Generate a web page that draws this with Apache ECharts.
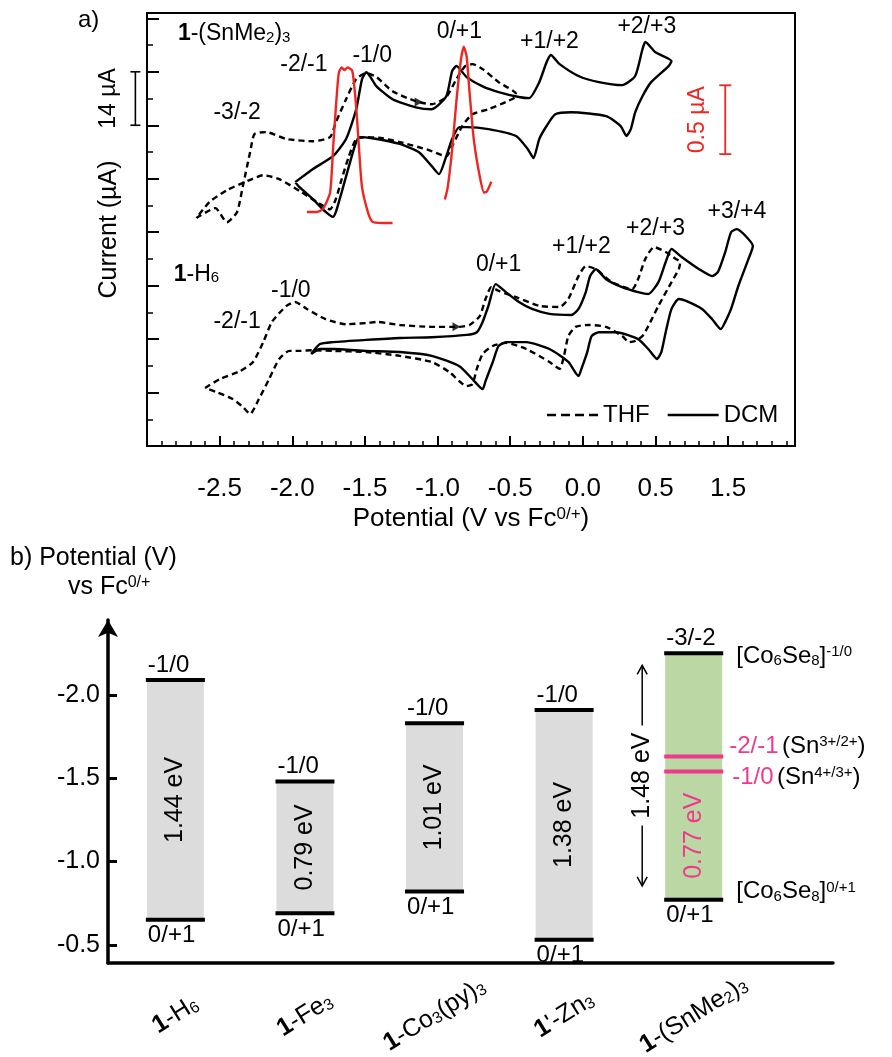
<!DOCTYPE html>
<html>
<head>
<meta charset="utf-8">
<script src="https://cdn.jsdelivr.net/npm/echarts@6/dist/echarts.min.js"></script>
<style>
  html, body { margin: 0; padding: 0; background: #fff; }
  #chart { width: 892px; height: 1057px; }
</style>
</head>
<body>
<div id="chart"></div>
<script>
// ---------- Panel a: cyclic voltammetry, potential (V vs Fc0/+) vs current (µA, offset traces) ----------
const snTHF = [[-2.66,59.7],[-2.53,62.3],[-2.45,58.6],[-2.38,61.3],[-2.34,68.1],[-2.29,77.0],[-2.26,81.7],[-2.18,82.2],[-2.04,80.4],[-1.86,79.8],[-1.74,80.9],[-1.70,84.8],[-1.63,90.8],[-1.56,96.1],[-1.49,97.7],[-1.42,96.6],[-1.31,92.9],[-1.15,90.3],[-1.04,89.5],[-0.94,91.4],[-0.87,96.1],[-0.81,99.5],[-0.76,100.0],[-0.69,98.7],[-0.58,95.3],[-0.46,92.2],[-0.46,91.6],[-0.53,90.1],[-0.65,88.2],[-0.76,86.9],[-0.83,83.8],[-0.90,78.5],[-0.94,75.9],[-1.06,77.5],[-1.26,79.6],[-1.38,80.6],[-1.49,80.9],[-1.56,80.4],[-1.61,75.9],[-1.66,69.9],[-1.70,64.7],[-1.74,62.0],[-1.83,63.9],[-1.95,66.8],[-2.09,69.9],[-2.20,70.9],[-2.31,69.4],[-2.45,67.0],[-2.57,63.9],[-2.66,59.7]];
const snDCM = [[-1.98,69.1],[-1.86,72.5],[-1.72,75.9],[-1.63,80.4],[-1.56,88.2],[-1.52,96.1],[-1.49,97.9],[-1.42,94.2],[-1.31,90.8],[-1.15,88.7],[-1.04,88.2],[-0.94,91.6],[-0.90,98.2],[-0.87,99.5],[-0.80,96.6],[-0.69,94.2],[-0.58,92.7],[-0.44,91.4],[-0.37,91.1],[-0.30,95.3],[-0.25,100.5],[-0.22,102.4],[-0.16,100.0],[-0.03,96.9],[0.11,95.3],[0.27,94.5],[0.36,96.9],[0.41,103.9],[0.43,105.8],[0.50,103.1],[0.61,100.8],[0.59,99.5],[0.47,95.3],[0.41,91.6],[0.36,87.4],[0.33,83.0],[0.30,81.2],[0.26,83.8],[0.16,86.4],[-0.08,87.4],[-0.19,86.9],[-0.25,83.8],[-0.30,80.4],[-0.34,75.4],[-0.38,77.8],[-0.46,81.2],[-0.65,83.0],[-0.80,83.5],[-0.85,83.5],[-0.90,80.4],[-0.94,75.9],[-0.99,71.2],[-1.04,73.3],[-1.13,77.0],[-1.26,79.1],[-1.45,80.6],[-1.54,80.9],[-1.57,78.5],[-1.61,73.3],[-1.66,66.5],[-1.70,61.3],[-1.72,60.0],[-1.77,61.3],[-1.86,64.7],[-1.95,67.8],[-1.98,69.1]];
// differential pulse voltammetry of 1-(SnMe2)3, own current scale (µA)
const snDPVneg = [[-1.90,1.70],[-1.83,1.70],[-1.79,1.72],[-1.74,1.84],[-1.72,2.15],[-1.70,2.46],[-1.68,2.71],[-1.66,2.75],[-1.64,2.73],[-1.62,2.75],[-1.59,2.73],[-1.58,2.68],[-1.56,2.46],[-1.54,2.15],[-1.52,1.88],[-1.48,1.70],[-1.45,1.63],[-1.38,1.62],[-1.31,1.62]];
const snDPVpos = [[-0.95,1.79],[-0.93,1.88],[-0.90,2.15],[-0.87,2.51],[-0.84,2.80],[-0.82,2.90],[-0.80,2.83],[-0.78,2.57],[-0.75,2.22],[-0.71,1.96],[-0.68,1.84],[-0.66,1.85],[-0.63,1.92]];
const h6THF = [[-2.60,15.2],[-2.50,17.5],[-2.36,19.6],[-2.27,22.0],[-2.20,27.2],[-2.14,32.5],[-2.04,36.7],[-1.98,37.7],[-1.90,35.9],[-1.77,33.2],[-1.63,31.9],[-1.49,32.2],[-1.42,32.5],[-1.26,31.7],[-1.04,31.2],[-0.85,31.2],[-0.78,31.7],[-0.71,34.0],[-0.67,38.5],[-0.63,41.6],[-0.58,40.6],[-0.46,39.0],[-0.30,36.7],[-0.16,36.4],[-0.10,38.5],[-0.03,44.5],[0.02,47.1],[0.09,46.3],[0.20,42.9],[0.34,41.1],[0.38,43.7],[0.43,49.0],[0.49,52.1],[0.57,50.8],[0.64,49.0],[0.67,48.2],[0.66,46.3],[0.61,42.9],[0.52,36.7],[0.45,31.4],[0.41,28.8],[0.36,27.5],[0.32,27.2],[0.27,28.8],[0.16,31.2],[0.04,31.7],[-0.05,31.2],[-0.10,28.8],[-0.13,23.6],[-0.16,20.2],[-0.23,22.0],[-0.39,25.4],[-0.53,27.0],[-0.62,26.2],[-0.69,24.1],[-0.73,20.2],[-0.76,16.2],[-0.80,15.7],[-0.92,19.4],[-1.04,22.0],[-1.26,23.6],[-1.49,24.6],[-1.72,24.9],[-1.86,25.1],[-1.95,24.9],[-2.02,24.9],[-2.09,22.8],[-2.16,17.5],[-2.23,12.3],[-2.29,8.4],[-2.34,10.2],[-2.41,12.3],[-2.52,14.1],[-2.60,15.2]];
const h6DCM = [[-1.87,24.1],[-1.81,26.7],[-1.72,27.2],[-1.49,27.8],[-1.26,28.3],[-1.04,28.5],[-0.80,29.1],[-0.73,29.8],[-0.69,32.5],[-0.65,36.7],[-0.60,42.4],[-0.53,40.3],[-0.44,37.7],[-0.35,35.9],[-0.23,34.6],[-0.08,34.3],[-0.03,35.9],[0.02,40.3],[0.05,44.5],[0.09,46.3],[0.16,43.7],[0.27,41.6],[0.38,40.3],[0.45,39.8],[0.52,42.9],[0.57,48.2],[0.61,51.6],[0.68,49.5],[0.80,46.3],[0.89,44.5],[0.93,45.6],[0.98,50.8],[1.02,56.0],[1.06,56.8],[1.12,55.0],[1.17,52.4],[1.14,49.0],[1.07,41.9],[1.02,35.9],[0.98,32.5],[0.95,30.6],[0.89,33.2],[0.82,35.9],[0.71,38.0],[0.66,38.5],[0.61,35.9],[0.57,29.8],[0.54,24.6],[0.51,22.8],[0.45,25.4],[0.38,28.0],[0.23,29.8],[0.11,29.8],[0.06,28.8],[0.03,24.6],[-0.01,20.2],[-0.03,18.3],[-0.10,22.0],[-0.23,25.4],[-0.39,27.2],[-0.53,27.2],[-0.58,26.2],[-0.62,22.0],[-0.67,17.0],[-0.69,14.9],[-0.76,17.5],[-0.85,20.9],[-1.04,23.6],[-1.26,24.6],[-1.49,24.9],[-1.72,25.4],[-1.81,25.4],[-1.87,24.1]];
// scan direction markers on the THF traces
const scanArrows = [[-1.13,90.1],[-0.87,31.2]];
// redox couple annotations: [potential, current, text]
const coupleNotes = [
  [-2.40,107.9,'{b|1}{t|-(SnMe}{sub|2}{t|)}{sub|3}'],
  [-1.92,100.0,'{t|-2/-1}'], [-1.45,102.1,'{t|-1/0}'], [-0.85,108.4,'{t|0/+1}'],
  [-0.23,105.8,'{t|+1/+2}'], [0.44,109.7,'{t|+2/+3}'], [-2.38,87.4,'{t|-3/-2}'],
  [-2.66,45.0,'{b|1}{t|-H}{sub|6}'],
  [-2.01,40.8,'{t|-1/0}'], [-2.38,32.5,'{t|-2/-1}'], [-0.58,47.4,'{t|0/+1}'],
  [-0.01,52.1,'{t|+1/+2}'], [0.50,56.8,'{t|+2/+3}'], [1.06,61.3,'{t|+3/+4}']
];
// current scale bars: [potential, low, high]
const cvScaleBar = [[-3.08,84,98]];      // 14 µA
const dpvScaleBar = [[0.98,2.12,2.62]];   // 0.5 µA
const xTickValues = [-2.5,-2.0,-1.5,-1.0,-0.5,0.0,0.5,1.0];
const xTickLabels = ['-2.5','-2.0','-1.5','-1.0','-0.5','0.0','0.5','1.5'];

// ---------- Panel b: redox potentials (V vs Fc0/+) ----------
const compounds = ['{b|1}{t|-H}{sub|6}','{b|1}{t|-Fe}{sub|3}','{b|1}{t|-Co}{sub|3}{t|(py)}{sub|3}',"{b|1}{t|'-Zn}{sub|3}",'{b|1}{t|-(SnMe}{sub|2}{t|)}{sub|3}'];
const upperCouple = ['-1/0','-1/0','-1/0','-1/0','-3/-2'];
const lowerCouple = ['0/+1','0/+1','0/+1','0/+1','0/+1'];
const upperPotential = [-2.09,-1.48,-1.83,-1.91,-2.25];
const gapEV = [1.44,0.79,1.01,1.38,1.48];
const tinCouple = ['-2/-1','-1/0'];
const tinIon = ['3+/2+','4+/3+'];
const tinPotential = [-1.63,-1.54];
const tinGapEV = 0.77;

const FONT = "'Liberation Sans', Arial, Helvetica, sans-serif";
const PINK = '#ec3b8d';
const RED = '#ee2622';
const GREY = '#dcdcdc';
const GREEN = '#bbd7a3';
const B_MIN = -2.45, B_MAX = -0.391;
const BAR_HALF = 0.22;

function richSet(size) {
  return {
    t: { fontSize: size, fontFamily: FONT, color: '#000' },
    b: { fontSize: size, fontFamily: FONT, color: '#000', fontWeight: 'bold' },
    p: { fontSize: size, fontFamily: FONT, color: PINK },
    sub: { fontSize: Math.round(size * 0.64), fontFamily: FONT, color: '#000', verticalAlign: 'bottom' },
    sup: { fontSize: Math.round(size * 0.64), fontFamily: FONT, color: '#000', verticalAlign: 'top' }
  };
}
function zrRich(size) {
  const r = richSet(size);
  Object.keys(r).forEach(k => { r[k].fill = r[k].color; });
  return r;
}

const minorX = [];
for (let k = -29; k <= 14; k++) if (k % 5 !== 0) minorX.push(k / 10);
const majorY = [], minorY = [];
for (let v = 14; v <= 112; v += 14) majorY.push(v);
for (let v = 7; v <= 112; v += 14) minorY.push(v);

// legend keys drawn as thin bars: dashed for THF, continuous for DCM
const dashKey = 'path://M0,0h9v2.4h-9z M14,0h9v2.4h-9z M28,0h9v2.4h-9z M42,0h9v2.4h-9z';
const solidKey = 'path://M0,0h51v2.4h-51z';

const cvLine = (name, data, dashed) => ({
  name, type: 'line', xAxisIndex: 0, yAxisIndex: 0, data,
  symbol: 'none', smooth: 0.2, z: 3,
  lineStyle: { color: '#000', width: 2.4, type: dashed ? [6, 4] : 'solid' },
  itemStyle: { color: '#000' }
});
const dpvLine = (data) => ({
  name: 'DPV', type: 'line', xAxisIndex: 0, yAxisIndex: 1, data,
  symbol: 'none', smooth: 0.2, z: 4,
  lineStyle: { color: RED, width: 2.4 }, itemStyle: { color: RED }
});

const chart = echarts.init(document.getElementById('chart'));

const option = {
  animation: false,
  backgroundColor: '#fff',
  textStyle: { fontFamily: FONT },
  grid: [
    { left: 147, top: 13, width: 648, height: 433, show: true, borderColor: '#000', borderWidth: 2, backgroundColor: 'transparent' },
    { left: 108, top: 620, width: 725, height: 343 }
  ],
  legend: {
    data: [{ name: 'THF', icon: dashKey }, { name: 'DCM', icon: solidKey }],
    left: 542, top: 398, itemWidth: 51, itemHeight: 3, itemGap: 18,
    itemStyle: { color: '#000' },
    textStyle: { fontSize: 24, fontFamily: FONT, color: '#000' }
  },
  xAxis: [
    {
      type: 'value', gridIndex: 0, position: 'bottom', min: -3.0, max: 1.46,
      axisLine: { onZero: false, lineStyle: { color: '#000', width: 2 } },
      axisTick: { inside: true, length: 10, customValues: xTickValues, lineStyle: { color: '#000', width: 2 } },
      axisLabel: {
        customValues: xTickValues, margin: 30, color: '#000', fontSize: 26, fontFamily: FONT,
        formatter: v => xTickLabels[xTickValues.findIndex(t => Math.abs(t - v) < 1e-6)]
      },
      splitLine: { show: false },
      name: '{t|Potential (V vs Fc}{sup|0/+}{t|)}', nameLocation: 'middle', nameGap: 60,
      nameTextStyle: { rich: richSet(26) }
    },
    {
      type: 'value', gridIndex: 0, position: 'bottom', min: -3.0, max: 1.46,
      axisLine: { show: false, onZero: false },
      axisTick: { inside: true, length: 5, customValues: minorX, lineStyle: { color: '#000', width: 1.5 } },
      axisLabel: { show: false }, splitLine: { show: false }
    },
    {
      type: 'value', gridIndex: 1, position: 'bottom', min: -0.52, max: 5.075,
      axisLine: { onZero: false, lineStyle: { color: '#000', width: 3.5 } },
      axisTick: { show: false }, axisLabel: { show: false }, splitLine: { show: false }
    }
  ],
  yAxis: [
    {
      type: 'value', gridIndex: 0, position: 'left', min: 0, max: 113.4,
      axisLine: { onZero: false, lineStyle: { color: '#000', width: 2 } },
      axisTick: { inside: true, length: 12, customValues: majorY, lineStyle: { color: '#000', width: 2 } },
      axisLabel: { show: false }, splitLine: { show: false },
      name: 'Current (µA)', nameLocation: 'middle', nameGap: 25, nameRotate: 90,
      nameTextStyle: { fontSize: 25, fontFamily: FONT, color: '#000' }
    },
    {
      type: 'value', gridIndex: 0, position: 'right', min: 0, max: 3.145, show: false,
      axisLine: { onZero: false }, splitLine: { show: false }
    },
    {
      type: 'value', gridIndex: 0, position: 'left', min: 0, max: 113.4,
      axisLine: { show: false, onZero: false },
      axisTick: { inside: true, length: 6, customValues: minorY, lineStyle: { color: '#000', width: 1.5 } },
      axisLabel: { show: false }, splitLine: { show: false }
    },
    {
      type: 'value', gridIndex: 1, position: 'left', inverse: true, min: B_MIN, max: B_MAX,
      axisLine: { onZero: false, lineStyle: { color: '#000', width: 3.5 }, symbol: ['none', 'arrow'], symbolSize: [15, 17] },
      axisTick: { inside: true, length: 9, customValues: [-2.0, -1.5, -1.0, -0.5], lineStyle: { color: '#000', width: 3 } },
      axisLabel: {
        customValues: [-2.0, -1.5, -1.0, -0.5], margin: 8, color: '#000', fontSize: 25, fontFamily: FONT,
        formatter: v => v.toFixed(1)
      },
      splitLine: { show: false }
    }
  ],
  graphic: [
    { type: 'text', left: 78, top: 8, style: { text: 'a)', fontSize: 24, fontFamily: FONT, fill: '#000' } },
    { type: 'text', left: 10, top: 546, style: { text: 'b) Potential (V)', fontSize: 25, fontFamily: FONT, fill: '#000' } },
    { type: 'text', left: 68, top: 575, style: { text: '{t|vs Fc}{sup|0/+}', rich: zrRich(25) } }
  ],
  series: [
    cvLine('THF', snTHF, true),
    cvLine('THF', h6THF, true),
    cvLine('DCM', snDCM, false),
    cvLine('DCM', h6DCM, false),
    dpvLine(snDPVneg),
    dpvLine(snDPVpos),
    {
      name: 'scan direction', type: 'scatter', xAxisIndex: 0, yAxisIndex: 0, data: scanArrows,
      symbol: 'triangle', symbolRotate: -90, symbolSize: [9, 8], itemStyle: { color: '#000' }, z: 5
    },
    {
      name: 'couples', type: 'custom', xAxisIndex: 0, yAxisIndex: 0, clip: false, z: 6,
      data: coupleNotes.map((n, k) => [n[0], n[1], k]),
      renderItem: (params, api) => {
        const p = api.coord([api.value(0), api.value(1)]);
        return { type: 'text', x: p[0], y: p[1],
          style: { text: coupleNotes[api.value(2)][2], rich: zrRich(23), align: 'center', verticalAlign: 'middle' } };
      }
    },
    {
      name: 'cv scale', type: 'custom', xAxisIndex: 0, yAxisIndex: 0, data: cvScaleBar, clip: false, z: 6,
      renderItem: (params, api) => {
        const lo = api.coord([api.value(0), api.value(1)]);
        const hi = api.coord([api.value(0), api.value(2)]);
        const x = lo[0];
        return { type: 'group', children: [
          { type: 'line', shape: { x1: x, y1: lo[1], x2: x, y2: hi[1] }, style: { stroke: '#000', lineWidth: 1.6 } },
          { type: 'line', shape: { x1: x - 5, y1: lo[1], x2: x + 5, y2: lo[1] }, style: { stroke: '#000', lineWidth: 1.6 } },
          { type: 'line', shape: { x1: x - 5, y1: hi[1], x2: x + 5, y2: hi[1] }, style: { stroke: '#000', lineWidth: 1.6 } },
          { type: 'text', x: x - 27, y: (lo[1] + hi[1]) / 2, rotation: Math.PI / 2,
            style: { text: '14 µA', fontSize: 23, fontFamily: FONT, fill: '#000', align: 'center', verticalAlign: 'middle' } }
        ] };
      }
    },
    {
      name: 'dpv scale', type: 'custom', xAxisIndex: 0, yAxisIndex: 1, data: dpvScaleBar, clip: false, z: 6,
      renderItem: (params, api) => {
        const lo = api.coord([api.value(0), api.value(1)]);
        const hi = api.coord([api.value(0), api.value(2)]);
        const x = lo[0];
        return { type: 'group', children: [
          { type: 'line', shape: { x1: x, y1: lo[1], x2: x, y2: hi[1] }, style: { stroke: RED, lineWidth: 1.8 } },
          { type: 'line', shape: { x1: x - 6, y1: lo[1], x2: x + 6, y2: lo[1] }, style: { stroke: RED, lineWidth: 1.8 } },
          { type: 'line', shape: { x1: x - 6, y1: hi[1], x2: x + 6, y2: hi[1] }, style: { stroke: RED, lineWidth: 1.8 } },
          { type: 'text', x: x - 28, y: (lo[1] + hi[1]) / 2, rotation: Math.PI / 2,
            style: { text: '0.5 µA', fontSize: 23, fontFamily: FONT, fill: RED, align: 'center', verticalAlign: 'middle' } }
        ] };
      }
    },
    {
      name: 'levels', type: 'custom', xAxisIndex: 2, yAxisIndex: 3, clip: false, z: 3,
      data: upperPotential.map((e, i) => [i, e, e + gapEV[i]]),
      renderItem: (params, api) => {
        const i = api.value(0);
        const a = api.coord([i - BAR_HALF, api.value(1)]);
        const b = api.coord([i + BAR_HALF, api.value(2)]);
        const x0 = a[0], x1 = b[0], y0 = a[1], y1 = b[1];
        const tin = i === compounds.length - 1;
        const txt = (text, x, y, extra) => Object.assign({ type: 'text', x, y,
          style: Object.assign({ text, fontSize: 24, fontFamily: FONT, fill: '#000', align: 'left', verticalAlign: 'middle' }, extra || {}) });
        const children = [
          { type: 'rect', shape: { x: x0, y: y0, width: x1 - x0, height: y1 - y0 }, style: { fill: tin ? GREEN : GREY } },
          { type: 'line', shape: { x1: x0 - 1, y1: y0, x2: x1 + 1, y2: y0 }, style: { stroke: '#000', lineWidth: 4 } },
          { type: 'line', shape: { x1: x0 - 1, y1: y1, x2: x1 + 1, y2: y1 }, style: { stroke: '#000', lineWidth: 4 } },
          txt(upperCouple[i], x0 + 1, y0 - 3, { verticalAlign: 'bottom' }),
          txt(lowerCouple[i], x0 + 1, y1 + 4, { verticalAlign: 'top' })
        ];
        if (!tin) {
          const t = txt(gapEV[i].toFixed(2) + ' eV', (x0 + x1) / 2, (y0 + y1) / 2, { align: 'center', fontSize: 25 });
          t.rotation = Math.PI / 2;
          children.push(t);
        } else {
          children.push({ type: 'text', x: x1 + 14, y: y0 + 3,
            style: { text: '{t|[Co}{sub|6}{t|Se}{sub|8}{t|]}{sup|-1/0}', rich: zrRich(24), verticalAlign: 'middle' } });
          children.push({ type: 'text', x: x1 + 14, y: y1 - 8,
            style: { text: '{t|[Co}{sub|6}{t|Se}{sub|8}{t|]}{sup|0/+1}', rich: zrRich(24), verticalAlign: 'middle' } });
        }
        return { type: 'group', children };
      }
    },
    {
      name: 'tin levels', type: 'custom', xAxisIndex: 2, yAxisIndex: 3, clip: false, z: 4,
      data: tinPotential.map((e, k) => [compounds.length - 1, e, k]),
      renderItem: (params, api) => {
        const i = api.value(0), k = api.value(2);
        const a = api.coord([i - BAR_HALF, api.value(1)]);
        const b = api.coord([i + BAR_HALF, api.value(1)]);
        const children = [
          { type: 'line', shape: { x1: a[0] - 1, y1: a[1], x2: b[0] + 1, y2: b[1] }, style: { stroke: PINK, lineWidth: 4 } },
          { type: 'text', x: b[0] + (k === 0 ? 7 : 10), y: a[1] + (k === 0 ? -10 : 6),
            style: { text: '{p|' + tinCouple[k] + '} {t|(Sn}{sup|' + tinIon[k] + '}{t|)}', rich: zrRich(24), verticalAlign: 'middle' } }
        ];
        if (k === 1) {
          // gap from the Sn4+/3+ level down to the cluster 0/+1 couple
          const low = api.coord([i, tinPotential[1] + tinGapEV]);
          children.push({ type: 'text', x: (a[0] + b[0]) / 2, y: (a[1] + low[1]) / 2, rotation: Math.PI / 2,
            style: { text: tinGapEV.toFixed(2) + ' eV', fontSize: 25, fontFamily: FONT, fill: PINK, align: 'center', verticalAlign: 'middle' } });
        }
        return { type: 'group', children };
      }
    },
    {
      name: 'cluster window', type: 'custom', xAxisIndex: 2, yAxisIndex: 3, clip: false, z: 4,
      data: [[compounds.length - 1, upperPotential[4], upperPotential[4] + gapEV[4]]],
      renderItem: (params, api) => {
        const i = api.value(0);
        const top = api.coord([i - BAR_HALF, api.value(1)]);
        const bot = api.coord([i - BAR_HALF, api.value(2)]);
        const x = top[0] - 23;
        const yt = top[1] + 12, yb = bot[1] - 14, ym = (yt + yb) / 2;
        const s = { stroke: '#000', lineWidth: 1.5 };
        return { type: 'group', children: [
          { type: 'line', shape: { x1: x, y1: yt, x2: x, y2: ym - 50 }, style: s },
          { type: 'line', shape: { x1: x, y1: ym + 50, x2: x, y2: yb }, style: s },
          { type: 'polyline', shape: { points: [[x - 5, yt + 9], [x, yt], [x + 5, yt + 9]] }, style: Object.assign({ fill: null }, s) },
          { type: 'polyline', shape: { points: [[x - 5, yb - 9], [x, yb], [x + 5, yb - 9]] }, style: Object.assign({ fill: null }, s) },
          { type: 'text', x: x, y: ym, rotation: Math.PI / 2,
            style: { text: gapEV[4].toFixed(2) + ' eV', fontSize: 25, fontFamily: FONT, fill: '#000', align: 'center', verticalAlign: 'middle' } }
        ] };
      }
    },
    {
      name: 'compounds', type: 'custom', xAxisIndex: 2, yAxisIndex: 3, clip: false, z: 4,
      data: compounds.map((c, i) => [i]),
      renderItem: (params, api) => {
        const i = api.value(0);
        const p = api.coord([i, B_MAX]);
        return { type: 'text', x: p[0], y: p[1] + 52, rotation: 32 * Math.PI / 180,
          style: { text: compounds[i], rich: zrRich(25), align: 'center', verticalAlign: 'middle' } };
      }
    }
  ]
};

chart.setOption(option);
</script>
</body>
</html>
